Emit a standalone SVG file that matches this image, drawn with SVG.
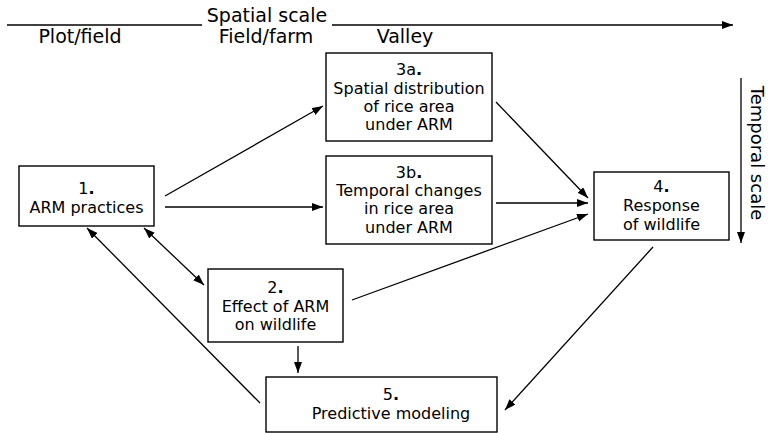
<svg xmlns="http://www.w3.org/2000/svg" width="770" height="433" viewBox="0 0 770 433">
<defs>
<marker id="ah" markerUnits="userSpaceOnUse" markerWidth="12" markerHeight="9" refX="11" refY="4" orient="auto-start-reverse" viewBox="0 0 12 9">
<path d="M0,0 L11,4 L0,8 z" fill="#000"/>
</marker>
<style>
.box{fill:#fff;stroke:#000;stroke-width:1.4}
.t{font-family:"DejaVu Sans","Liberation Sans",sans-serif;font-size:16px;fill:#000;text-anchor:middle}
.h{font-family:"DejaVu Sans","Liberation Sans",sans-serif;font-size:19px;fill:#000;text-anchor:middle}
.b{font-weight:bold}
.c{fill:none;stroke:#000;stroke-width:1.3}
.a{marker-end:url(#ah)}
.d{marker-start:url(#ah);marker-end:url(#ah)}
</style>
</defs>
<rect width="770" height="433" fill="#fff"/>
<g id="scales">
<line class="c" x1="7" y1="25" x2="202" y2="25"/>
<line class="c a" x1="332" y1="25" x2="733" y2="25"/>
<text class="h" x="267" y="22">Spatial scale</text>
<text class="h" x="80" y="43">Plot/field</text>
<text class="h" x="266" y="43">Field/farm</text>
<text class="h" x="405" y="43">Valley</text>
<line class="c a" x1="741" y1="78" x2="741" y2="243"/>
<text class="h" style="font-size:18px" transform="translate(751,153) rotate(90)">Temporal scale</text>
</g>
<g id="connectors">
<line class="c a" x1="165" y1="196" x2="323" y2="106"/>
<line class="c a" x1="165" y1="207" x2="323" y2="207"/>
<line class="c a" x1="496" y1="102" x2="588" y2="198"/>
<line class="c a" x1="496" y1="203" x2="588" y2="203"/>
<line class="c a" x1="352" y1="300" x2="588" y2="214"/>
<line class="c d" x1="144" y1="228" x2="204" y2="285"/>
<line class="c a" x1="260" y1="403" x2="87" y2="228"/>
<line class="c a" x1="298" y1="346" x2="298" y2="373"/>
<line class="c a" x1="653" y1="247" x2="505" y2="410"/>
</g>
<g id="n1">
<rect class="box" x="19" y="166" width="135" height="60"/>
<text class="t" x="86.5" y="194">1<tspan class="b">.</tspan></text>
<text class="t" x="86.5" y="213">ARM practices</text>
</g>
<g id="n3a">
<rect class="box" x="326" y="53" width="166" height="88"/>
<text class="t" x="409" y="75">3a<tspan class="b">.</tspan></text>
<text class="t" x="409" y="93.5">Spatial distribution</text>
<text class="t" x="409" y="111.5">of rice area</text>
<text class="t" x="409" y="130">under ARM</text>
</g>
<g id="n3b">
<rect class="box" x="326" y="156" width="166" height="88"/>
<text class="t" x="409" y="178">3b<tspan class="b">.</tspan></text>
<text class="t" x="409" y="196">Temporal changes</text>
<text class="t" x="409" y="214">in rice area</text>
<text class="t" x="409" y="232.5">under ARM</text>
</g>
<g id="n4">
<rect class="box" x="594" y="172" width="135" height="68"/>
<text class="t" x="661.5" y="192">4<tspan class="b">.</tspan></text>
<text class="t" x="661.5" y="210.5">Response</text>
<text class="t" x="661.5" y="229.5">of wildlife</text>
</g>
<g id="n2">
<rect class="box" x="208" y="269" width="135" height="73"/>
<text class="t" x="275.5" y="293">2<tspan class="b">.</tspan></text>
<text class="t" x="275.5" y="312">Effect of ARM</text>
<text class="t" x="275.5" y="330">on wildlife</text>
</g>
<g id="n5">
<rect class="box" x="266" y="377" width="231" height="55"/>
<text class="t" x="391" y="400">5<tspan class="b">.</tspan></text>
<text class="t" x="391" y="419">Predictive modeling</text>
</g>
</svg>
